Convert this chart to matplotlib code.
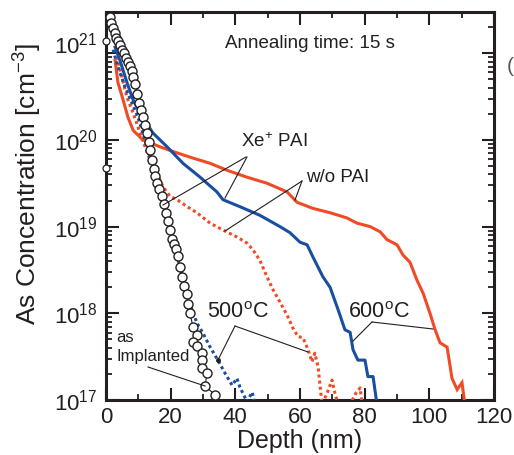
import numpy as np
import matplotlib
matplotlib.use('Agg')
import matplotlib.pyplot as plt
from matplotlib.lines import Line2D
from matplotlib.ticker import MultipleLocator, LogLocator, NullFormatter, FixedLocator
import matplotlib.transforms as mtransforms

plt.rcParams['font.family'] = ['Liberation Sans', 'DejaVu Sans']
plt.rcParams['mathtext.fontset'] = 'custom'
plt.rcParams['mathtext.rm'] = 'Liberation Sans'
plt.rcParams['mathtext.it'] = 'Liberation Sans:italic'
plt.rcParams['mathtext.bf'] = 'Liberation Sans:bold'

# ---------------- data (depth in nm, log10 of As concentration in cm^-3) ----------------
impl_depth = [1.2, 1.7, 2.2, 2.7, 3.2, 3.7, 4.3, 4.9, 5.6, 6.2, 6.8, 7.4, 7.9, 8.5, 9.1,
              9.7, 10.3, 10.9, 11.5, 12.1, 12.7, 13.2, 13.7, 14.2, 14.7, 15.3, 15.9, 16.5,
              17.2, 17.9, 18.5, 19.1, 19.7, 20.4, 21.0, 21.6, 22.2, 22.8, 23.5, 24.2, 24.9,
              25.5, 26.0, 26.9, 28.1, 26.9, 28.0, 29.6, 29.8, 29.6, 31.2, 30.7, 33.7]
impl_log10 = [21.42, 21.35, 21.29, 21.23, 21.18, 21.14, 21.09, 21.04, 21.00, 20.95, 20.90,
              20.85, 20.80, 20.73, 20.64, 20.53, 20.43, 20.35, 20.26, 20.17, 20.08, 19.98,
              19.88, 19.77, 19.67, 19.58, 19.50, 19.43, 19.35, 19.26, 19.16, 19.06, 18.96,
              18.86, 18.80, 18.74, 18.66, 18.53, 18.42, 18.32, 18.22, 18.11, 18.00, 17.84,
              17.75, 17.67, 17.62, 17.54, 17.46, 17.37, 17.31, 17.16, 17.06]
surface_depth = [0.0, 0.0]
surface_log10 = [21.14, 19.68]

xe600_depth = [2.8, 4.3, 6.5, 8.4, 11.4, 14.5, 18.9, 23.8, 29.1, 34.3, 36.2, 41.4, 47.6,
               53.8, 56.9, 60.0, 62.2, 64.0, 67.1, 69.3, 71.8, 73.9, 75.5, 76.4, 77.9,
               80.1, 81.0, 82.6, 83.8]
xe600_log10 = [21.07, 20.92, 20.66, 20.46, 20.26, 20.08, 19.92, 19.73, 19.57, 19.40, 19.31,
               19.23, 19.13, 19.00, 18.93, 18.82, 18.79, 18.65, 18.42, 18.30, 18.04, 17.81,
               17.78, 17.58, 17.46, 17.46, 17.27, 17.27, 16.95]

wo600_depth = [2.8, 3.7, 5.3, 6.8, 8.4, 11.4, 16.7, 22.0, 26.9, 32.2, 37.4, 43.6, 49.8,
               56.0, 59.1, 64.0, 69.3, 74.5, 77.6, 81.7, 84.8, 86.9, 90.0, 91.9, 94.0,
               96.2, 98.1, 100.2, 101.8, 103.3, 105.5, 107.0, 108.6, 110.1, 111.0]
wo600_log10 = [20.92, 20.66, 20.46, 20.26, 20.11, 20.00, 19.92, 19.85, 19.79, 19.73, 19.65,
               19.57, 19.50, 19.40, 19.28, 19.21, 19.16, 19.10, 19.04, 19.00, 18.94, 18.85,
               18.79, 18.67, 18.59, 18.38, 18.23, 18.00, 17.81, 17.66, 17.61, 17.25, 17.12,
               17.20, 16.95]

wo500_depth = [3.4, 4.9, 6.5, 8.4, 10.5, 13.6, 15.8, 17.6, 19.8, 22.0, 25.1, 28.1, 32.2,
               36.2, 40.5, 43.6, 45.5, 47.6, 49.8, 51.7, 53.8, 56.0, 57.8, 59.4, 60.9,
               62.5, 63.7, 64.6, 65.6, 66.8, 68.4, 69.9, 70.8, 71.8, 75.5, 77.3, 78.6, 79.2]
wo500_log10 = [20.96, 20.73, 20.49, 20.31, 20.08, 19.77, 19.62, 19.46, 19.35, 19.31, 19.23,
               19.16, 19.04, 18.96, 18.88, 18.81, 18.73, 18.61, 18.42, 18.27, 18.13, 17.98,
               17.83, 17.73, 17.72, 17.58, 17.44, 17.54, 17.38, 16.95, 17.08, 17.23, 17.08,
               16.95, 16.95, 17.08, 17.14, 16.95]

xe500_depth = [2.2, 3.7, 5.9, 8.0, 9.9, 11.4, 13.0, 14.5, 16.1, 17.3, 18.9, 20.4, 22.9,
               25.1, 26.6, 28.1, 30.0, 32.2, 34.6, 36.8, 39.0, 40.5, 41.4, 43.6, 45.2, 46.1]
xe500_log10 = [21.04, 20.84, 20.61, 20.43, 20.26, 20.08, 19.88, 19.69, 19.46, 19.34, 19.16,
               18.88, 18.53, 18.23, 18.04, 17.89, 17.77, 17.61, 17.46, 17.31, 17.17, 17.25,
               17.15, 16.98, 17.09, 16.95]

x_ticks = [0, 20, 40, 60, 80, 100, 120]
y_decades = [17, 18, 19, 20, 21]

RED = '#f04b26'
BLUE = '#1a4ea0'
INK = '#231f20'

W, H = 514, 455
fig = plt.figure(figsize=(W / 100, H / 100), dpi=100)
L, R, T, B = 106, 494, 12, 400
ax = fig.add_axes([L / W, 1 - B / H, (R - L) / W, (B - T) / H])

def c(v):
    return 10 ** np.asarray(v, dtype=float)

ax.plot(wo600_depth, c(wo600_log10), color=RED, lw=2.2, solid_joinstyle='miter', zorder=3)
ax.plot(wo500_depth, c(wo500_log10), color=RED, lw=2.2, ls=(0, (1, 1)), zorder=3)
ax.plot(xe600_depth, c(xe600_log10), color=BLUE, lw=2.2, zorder=3)
ax.plot(xe500_depth, c(xe500_log10), color=BLUE, lw=2.2, ls=(0, (1, 1)), zorder=3)
ax.plot(impl_depth, c(impl_log10), color=INK, lw=0.8, marker='o', ms=6.5, mfc='white',
        mec=INK, mew=1.0, zorder=5)
ax.plot(surface_depth, c(surface_log10), ls='none', marker='o', ms=5, mfc='white',
        mec=INK, mew=0.9, zorder=6, clip_on=False)

ax.set_xscale('linear')
ax.set_yscale('log')
ax.set_xlim(0, 120)
ax.set_ylim(1e17, 10 ** (17 + (B - T) / 86.7))

ax.xaxis.set_major_locator(FixedLocator(x_ticks))
ax.xaxis.set_minor_locator(MultipleLocator(10))
ax.set_xticklabels([str(t) for t in x_ticks])
ax.yaxis.set_major_locator(FixedLocator([10.0 ** d for d in y_decades]))
ax.yaxis.set_minor_locator(LogLocator(base=10, subs=np.arange(2, 10)))
ax.yaxis.set_minor_formatter(NullFormatter())
ax.set_yticklabels([r'$\mathregular{10^{%d}}$' % d for d in y_decades])

for s in ax.spines.values():
    s.set_linewidth(2.2)
    s.set_color(INK)
ax.tick_params(which='both', direction='in', top=True, right=True, color=INK)
ax.tick_params(which='major', length=9, width=1.5, labelsize=16, labelcolor=INK)
ax.tick_params(which='minor', length=4.5, width=1.3)
ax.tick_params(axis='x', which='major', pad=5)
ax.tick_params(axis='y', which='major', pad=6)

# shift the top y label up a little like the reference
lbls = ax.get_yticklabels()
lbls[-1].set_transform(lbls[-1].get_transform() +
                       mtransforms.ScaledTranslation(0, 10 / 100, fig.dpi_scale_trans))

def P(x, y):
    return (x / W, 1 - y / H)

fig.text(*P(300, 441), 'Depth (nm)', fontsize=18, ha='center', va='center', color=INK)
fig.text(*P(28, 184), r'As Concentration [cm$^{\mathregular{-3}}$]', fontsize=19,
         rotation=90, ha='center', va='center', color=INK)

fig.text(*P(310, 43), 'Annealing time: 15 s', fontsize=13.5, ha='center', va='center', color=INK)
fig.text(*P(274, 142), r'Xe$^{\mathregular{+}}$ PAI', fontsize=13.5, ha='center', va='center', color=INK)
fig.text(*P(338, 177), 'w/o PAI', fontsize=13.5, ha='center', va='center', color=INK)
fig.text(*P(238, 312), r'500$^{\mathregular{o}}$C', fontsize=15.5, ha='center', va='center', color=INK)
fig.text(*P(379, 312), r'600$^{\mathregular{o}}$C', fontsize=15.5, ha='center', va='center', color=INK)
fig.text(*P(116, 337), 'as', fontsize=12, ha='left', va='center', color=INK)
fig.text(*P(117, 356), 'Implanted', fontsize=12, ha='left', va='center', color=INK)
fig.text(*P(507, 66), '(', fontsize=15, ha='left', va='center', color='#555555')

def leader(p0, p1):
    (x0, y0), (x1, y1) = P(*p0), P(*p1)
    fig.add_artist(Line2D([x0, x1], [y0, y1], transform=fig.transFigure,
                          color=INK, lw=0.8, zorder=10))

leader((246, 157), (163, 205))
leader((247, 157), (225, 198))
leader((302, 181), (295, 200))
leader((302, 181), (225, 231))
leader((235, 326), (218, 360))
leader((235, 326), (308, 352))
leader((372, 322), (353, 341))
leader((372, 322), (433, 329))
leader((148, 367), (205, 386))
xd, yd = P(218, 360)
fig.add_artist(Line2D([xd], [yd], transform=fig.transFigure, marker='o', ms=2.5,
                      color=INK, zorder=11))

fig.savefig('out.png', dpi=100)
